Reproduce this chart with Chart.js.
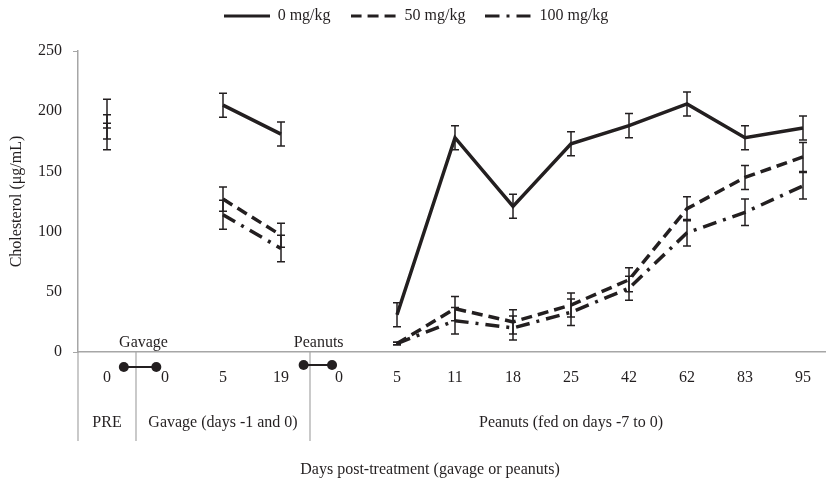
<!DOCTYPE html>
<html>
<head>
<meta charset="utf-8">
<title>Cholesterol</title>
<script src="https://cdn.jsdelivr.net/npm/chart.js@4.4.1/dist/chart.umd.min.js"></script>
<style>
	html, body { margin: 0; padding: 0; background: #fff; overflow: hidden; }
	#wrap { width: 832px; height: 488px; }
</style>
</head>
<body>
<div id="wrap"><canvas id="cholChart" width="832" height="488"></canvas></div>
<script>
// x categories: PRE | gavage days | peanut days
const days = ['0', '0', '5', '19', '0', '5', '11', '18', '25', '42', '62', '83', '95'];

const seriesNames = ['0 mg/kg', '50 mg/kg', '100 mg/kg'];

// mean cholesterol (µg/mL), null = no sample
const dose0 = [189, null, 205, 181, null, 31, 178, 121, 173, 188, 206, 178, 186];
const dose50 = [187, null, 127, 97, null, 7, 36, 25, 39, 60, 119, 145, 162];
const dose100 = [188, null, 114, 86, null, 7, 26, 20, 33, 53, 99, 116, 138];

// error bar half-lengths
const dose0Err = [21, null, 10, 10, null, 10, 10, 10, 10, 10, 10, 10, 10];
const dose50Err = [10, null, 10, 10, null, 1, 10, 10, 10, 10, 10, 10, 12];
const dose100Err = [2, null, 12, 11, null, 1, 11, 10, 11, 10, 11, 11, 11];

const yTicks = [0, 50, 100, 150, 200, 250];

const ink = '#231f20';
const axisGrey = '#a6a6a6';
const serif = '"Liberation Serif", "Times New Roman", serif';

// little canvas used as the legend sample so the dash pattern shows
function legendSwatch(dash) {
	const c = document.createElement('canvas');
	c.width = 46;
	c.height = 6;
	const g = c.getContext('2d');
	g.strokeStyle = ink;
	g.lineWidth = 3;
	g.setLineDash(dash);
	g.beginPath();
	g.moveTo(0, 3);
	g.lineTo(46, 3);
	g.stroke();
	return c;
}

const errorBars = {
	id: 'errorBars',
	afterDatasetsDraw(chart) {
		const { ctx, scales: { x, y } } = chart;
		ctx.save();
		ctx.strokeStyle = ink;
		ctx.lineWidth = 1.5;
		chart.data.datasets.forEach((ds) => {
			ds.data.forEach((v, i) => {
				const e = ds.errors[i];
				if (v === null || e === null) return;
				const px = x.getPixelForValue(i);
				const top = y.getPixelForValue(v + e);
				const bot = y.getPixelForValue(v - e);
				ctx.beginPath();
				ctx.moveTo(px, top);
				ctx.lineTo(px, bot);
				ctx.moveTo(px - 4, top);
				ctx.lineTo(px + 4, top);
				ctx.moveTo(px - 4, bot);
				ctx.lineTo(px + 4, bot);
				ctx.stroke();
			});
		});
		ctx.restore();
	},
};

function dumbbell(ctx, x1, x2, yy) {
	ctx.beginPath();
	ctx.moveTo(x1, yy);
	ctx.lineTo(x2, yy);
	ctx.stroke();
	[x1, x2].forEach((cx) => {
		ctx.beginPath();
		ctx.arc(cx, yy, 5, 0, Math.PI * 2);
		ctx.fill();
	});
}

const treatmentMarks = {
	id: 'treatmentMarks',
	afterDraw(chart) {
		const { ctx, chartArea, scales: { x } } = chart;
		const base = chartArea.bottom;
		ctx.save();

		// group separators below the axis
		ctx.strokeStyle = axisGrey;
		ctx.lineWidth = 1.2;
		[chartArea.left, x.getPixelForValue(0.5), x.getPixelForValue(3.5)].forEach((px) => {
			ctx.beginPath();
			ctx.moveTo(px, base);
			ctx.lineTo(px, base + 89);
			ctx.stroke();
		});

		// treatment markers
		ctx.strokeStyle = ink;
		ctx.fillStyle = ink;
		ctx.lineWidth = 2;
		dumbbell(ctx, x.getPixelForValue(0.29), x.getPixelForValue(0.85), base + 15);
		dumbbell(ctx, x.getPixelForValue(3.39), x.getPixelForValue(3.88), base + 13);

		ctx.font = '16px ' + serif;
		ctx.textAlign = 'center';
		ctx.textBaseline = 'middle';
		ctx.fillText('Gavage', x.getPixelForValue(0.63), base - 9);
		ctx.fillText('Peanuts', x.getPixelForValue(3.65), base - 9);

		// group labels
		ctx.fillText('PRE', x.getPixelForValue(0), base + 71);
		ctx.fillText('Gavage (days -1 and 0)', x.getPixelForValue(2), base + 71);
		ctx.fillText('Peanuts (fed on days -7 to 0)', x.getPixelForValue(8), base + 71);

		ctx.fillText('Days post-treatment (gavage or peanuts)', 430, base + 118);
		ctx.restore();
	},
};

const legendGap = {
	id: 'legendGap',
	beforeInit(chart) {
		const fit = chart.legend.fit;
		chart.legend.fit = function () {
			fit.bind(chart.legend)();
			this.height += 17;
		};
	},
};

function lineSet(label, data, errors, dash) {
	return {
		label,
		data,
		errors,
		borderColor: ink,
		backgroundColor: ink,
		borderWidth: 3.5,
		borderDash: dash,
		pointStyle: legendSwatch(dash),
		pointRadius: 0,
		pointHoverRadius: 0,
		spanGaps: false,
		tension: 0,
	};
}

new Chart(document.getElementById('cholChart'), {
	type: 'line',
	data: {
		labels: days,
		datasets: [
			lineSet(seriesNames[0], dose0, dose0Err, []),
			lineSet(seriesNames[1], dose50, dose50Err, [11, 6]),
			lineSet(seriesNames[2], dose100, dose100Err, [14, 7, 3, 7]),
		],
	},
	options: {
		responsive: false,
		animation: false,
		layout: { padding: { top: -12, left: 0, right: 0, bottom: 0 } },
		plugins: {
			tooltip: { enabled: false },
			legend: {
				position: 'top',
				labels: {
					usePointStyle: true,
					pointStyleWidth: 46,
					padding: 20,
					color: ink,
					font: { family: serif, size: 16 },
				},
			},
		},
		scales: {
			x: {
				offset: true,
				grid: { display: false, drawTicks: false },
				border: { display: true, color: axisGrey, width: 1.5 },
				ticks: {
					padding: 16,
					color: ink,
					autoSkip: false,
					maxRotation: 0,
					font: { family: serif, size: 16 },
				},
				afterFit(scale) {
					scale.height = 136;
				},
			},
			y: {
				min: 0,
				max: 250,
				afterBuildTicks(scale) {
					scale.ticks = yTicks.map((v) => ({ value: v }));
				},
				grid: {
					drawOnChartArea: false,
					drawTicks: true,
					tickLength: 5,
					color: (c) => (c.tick && (c.tick.value === 0 || c.tick.value === 250) ? axisGrey : 'rgba(0,0,0,0)'),
				},
				border: { display: true, color: axisGrey, width: 1.5 },
				ticks: {
					padding: 11,
					color: ink,
					font: { family: serif, size: 16 },
				},
				title: {
					display: true,
					text: 'Cholesterol (μg/mL)',
					color: ink,
					padding: { top: 7, bottom: 0 },
					font: { family: serif, size: 16 },
				},
				afterFit(scale) {
					scale.width = 78;
				},
			},
		},
	},
	plugins: [legendGap, errorBars, treatmentMarks],
});
</script>
</body>
</html>
